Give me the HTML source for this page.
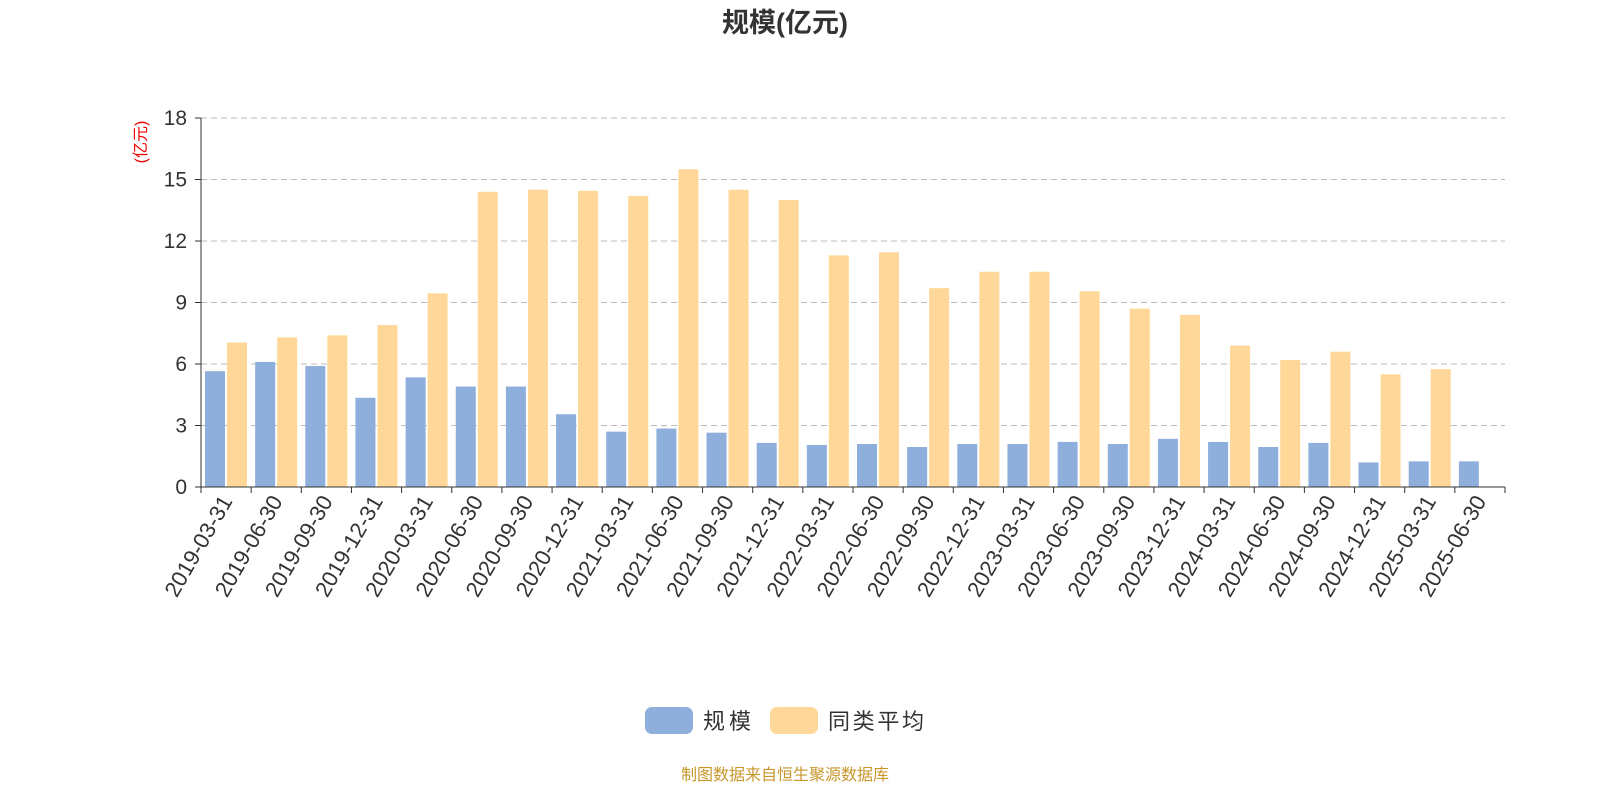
<!DOCTYPE html>
<html><head><meta charset="utf-8"><style>
body{margin:0;background:#fff;width:1600px;height:800px;overflow:hidden;font-family:"Liberation Sans","Noto Sans CJK SC",sans-serif}
</style></head><body>
<svg id="c" width="1600" height="800" style="font-family:'Liberation Sans','Noto Sans CJK SC',sans-serif">
<text x="785" y="32" text-anchor="middle" font-size="27" font-weight="bold" fill="#333">规模(亿元)</text>
<text transform="translate(146,142) rotate(-90)" text-anchor="middle" font-size="16" fill="#e00">(亿元)</text>
<g id="grid"></g><g id="bars"></g><g id="axes"></g>
<g>
<rect x="645" y="707" width="48" height="27" rx="7" fill="#8eaedb"/>
<text x="703" y="729" font-size="22" fill="#333" textLength="48">规模</text>
<rect x="770" y="707" width="48" height="27" rx="7" fill="#ffd899"/>
<text x="828" y="729" font-size="22" fill="#333" textLength="96">同类平均</text>
</g>
<text x="785" y="780" text-anchor="middle" font-size="16" fill="#c8962a">制图数据来自恒生聚源数据库</text>
</svg>
<script>
const categories=["2019-03-31","2019-06-30","2019-09-30","2019-12-31","2020-03-31","2020-06-30","2020-09-30","2020-12-31","2021-03-31","2021-06-30","2021-09-30","2021-12-31","2022-03-31","2022-06-30","2022-09-30","2022-12-31","2023-03-31","2023-06-30","2023-09-30","2023-12-31","2024-03-31","2024-06-30","2024-09-30","2024-12-31","2025-03-31","2025-06-30"];
const scaleValues=[5.65,6.1,5.9,4.35,5.35,4.9,4.9,3.55,2.7,2.85,2.65,2.15,2.05,2.1,1.95,2.1,2.1,2.2,2.1,2.35,2.2,1.95,2.15,1.2,1.25,1.25];
const avgValues=[7.05,7.3,7.4,7.9,9.45,14.4,14.5,14.45,14.2,15.5,14.5,14.0,11.3,11.45,9.7,10.5,10.5,9.55,8.7,8.4,6.9,6.2,6.6,5.5,5.75,null];
const yTicks=[0,3,6,9,12,15,18];
const NS="http://www.w3.org/2000/svg";
const x0=201,x1=1505,yB=487,yT=118,yMax=18;
const bw=(x1-x0)/categories.length;
const y=v=>yB-(v/yMax)*(yB-yT);
function mk(t,a,p){const e=document.createElementNS(NS,t);for(const k in a)e.setAttribute(k,a[k]);p.appendChild(e);return e;}
const grid=document.getElementById('grid'),bars=document.getElementById('bars'),axes=document.getElementById('axes');
yTicks.forEach(t=>{
 if(t>0){const l=mk('line',{x1:x0,x2:x1,y1:y(t),y2:y(t),stroke:'#bbb','stroke-dasharray':'6,4'},grid);
 
 }
 const tx=mk('text',{x:x0-14,y:y(t)+7,'text-anchor':'end','font-size':'21',fill:'#333'},axes);tx.textContent=t;
 
 
 mk('line',{x1:x0-6,x2:x0,y1:y(t),y2:y(t),stroke:'#333'},axes);
});
mk('line',{x1:x0,x2:x0,y1:yT,y2:yB,stroke:'#333'},axes);
mk('line',{x1:x0,x2:x1,y1:yB,y2:yB,stroke:'#333'},axes);
for(let i=0;i<=categories.length;i++)mk('line',{x1:x0+i*bw,x2:x0+i*bw,y1:yB,y2:yB+6,stroke:'#333'},axes);
categories.forEach((c,i)=>{
 const cx=x0+i*bw;
 const s=scaleValues[i];
 if(s!=null){const r=mk('rect',{x:cx+4,y:y(s),width:20,height:yB-y(s),fill:'#8eaedb'},bars);
 
 }
 const a=avgValues[i];
 if(a!=null){const r=mk('rect',{x:cx+26,y:y(a),width:20,height:yB-y(a),fill:'#ffd899'},bars);
 
 }
 const tx=mk('text',{transform:`translate(${cx+bw/2+7},${yB+14}) rotate(-60)`,'text-anchor':'end','font-size':'22',fill:'#333'},axes);
 tx.textContent=c;
 
 
});
</script>
</body></html>
